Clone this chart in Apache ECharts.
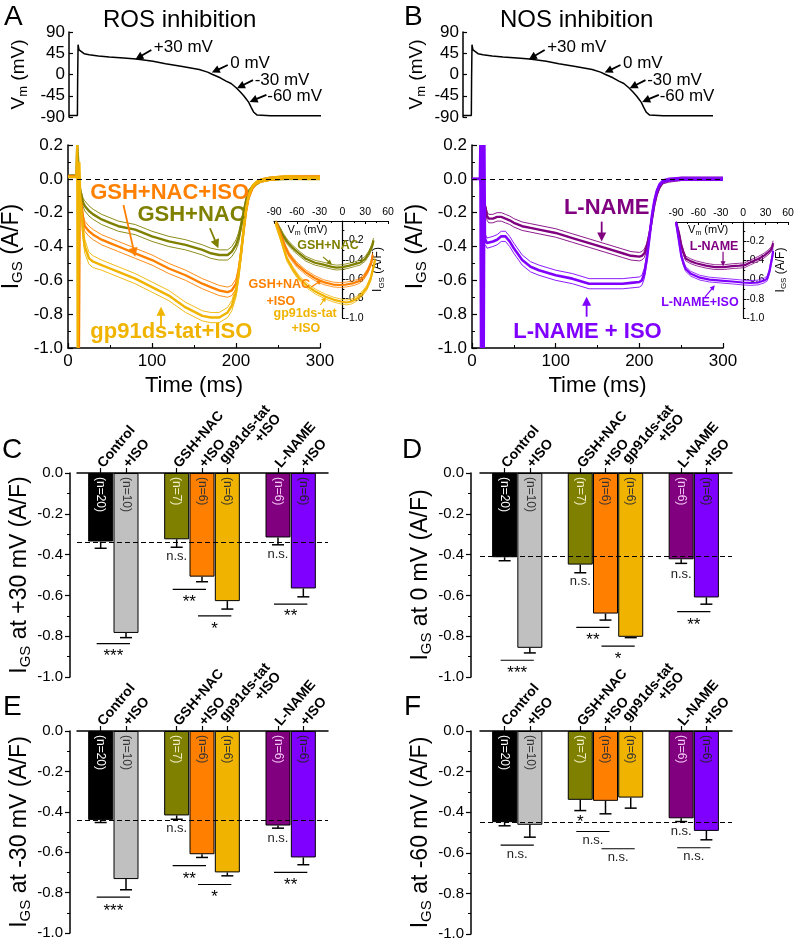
<!DOCTYPE html>
<html><head><meta charset="utf-8">
<script src="https://cdn.jsdelivr.net/npm/echarts@6/dist/echarts.min.js"></script>
<style>html,body{margin:0;padding:0;background:#fff}#c{width:800px;height:944px}</style>
</head><body><div id="c"></div>
<script>
const FF = "'Liberation Sans', Arial, Helvetica, sans-serif";

// ---------------- DATA ----------------
// Action potential (Vm) command: time (ms), voltage (mV)
const vmTime  = [0,10,10.3,10.8,11.3,12,14,18,24,35,48,65,80,100,115,135,155,165,171,180,187,193,199,204,208,211,214,217,220,224,240,300];
const vmValue = [-87,-87,-10,63,58,52,48,44,42,39,37,35,33,28,23,17,10.5,5,0,-7,-14,-19,-28,-37,-45,-52,-59,-70,-80,-86,-87.5,-87.5];

// Panel A traces (A/F)
const tA = [16,18,20,25,30,40,50,60,80,100,120,140,160,170,180,190,195,200,203,206,209,212,215,220,225,230,240,260,280,300];
const gshNac    = [-0.10,-0.14,-0.16,-0.19,-0.21,-0.24,-0.26,-0.28,-0.30,-0.34,-0.37,-0.39,-0.42,-0.44,-0.45,-0.45,-0.43,-0.39,-0.35,-0.28,-0.20,-0.13,-0.08,-0.045,-0.025,-0.01,0,0.005,0.005,0.005];
const gshNacIso = [-0.15,-0.24,-0.28,-0.31,-0.33,-0.36,-0.38,-0.40,-0.44,-0.48,-0.53,-0.57,-0.62,-0.64,-0.66,-0.67,-0.66,-0.62,-0.55,-0.44,-0.31,-0.19,-0.11,-0.05,-0.02,-0.01,0,0.01,0.01,0.01];
const gp91Iso   = [-0.20,-0.32,-0.40,-0.47,-0.49,-0.51,-0.53,-0.55,-0.59,-0.64,-0.69,-0.76,-0.81,-0.82,-0.82,-0.79,-0.75,-0.67,-0.57,-0.44,-0.30,-0.18,-0.10,-0.04,-0.02,-0.01,0,0.01,0.005,0.005];
const semGshNac    = [0.02,0.025,0.03,0.03,0.03,0.03,0.03,0.03,0.03,0.03,0.03,0.03,0.03,0.03,0.03,0.03,0.03,0.03,0.03,0.025,0.02,0.02,0.015,0.01,0.01,0.01,0.01,0.01,0.01,0.01];
const semGshNacIso = [0.02,0.03,0.03,0.03,0.03,0.03,0.03,0.03,0.03,0.03,0.03,0.03,0.03,0.03,0.03,0.03,0.03,0.03,0.03,0.03,0.025,0.02,0.015,0.01,0.01,0.01,0.01,0.01,0.01,0.01];
const semGp91Iso   = [0.03,0.04,0.04,0.035,0.035,0.03,0.03,0.03,0.03,0.03,0.03,0.03,0.03,0.03,0.03,0.03,0.03,0.03,0.03,0.03,0.025,0.02,0.015,0.01,0.01,0.01,0.01,0.01,0.01,0.01];
const artGshNac    = [[0,0.02],[10,0.02],[11,0.2],[12.5,0.2],[14,-0.05]];
const artGshNacIso = [[0,0.015],[10,0.015],[12,0.1],[13,-1.0],[14,-0.1]];
const artGp91Iso   = [[0,0.01],[10,0.01],[11,0.2],[11.5,-1.0],[12.5,-1.0],[13.5,0.1],[14.5,-0.1]];

// Panel B traces (A/F)
const tB = [16,18,20,25,30,35,40,45,50,60,70,80,100,120,140,160,180,190,200,203,206,209,212,215,218,221,224,228,235,250,275,300];
const lName    = [-0.17,-0.22,-0.235,-0.235,-0.225,-0.225,-0.235,-0.245,-0.26,-0.28,-0.29,-0.30,-0.32,-0.35,-0.38,-0.41,-0.44,-0.455,-0.46,-0.455,-0.44,-0.40,-0.33,-0.24,-0.15,-0.09,-0.05,-0.02,-0.01,0,0,0];
const lNameIso = [-0.36,-0.38,-0.39,-0.37,-0.36,-0.34,-0.34,-0.37,-0.41,-0.48,-0.52,-0.54,-0.57,-0.59,-0.62,-0.62,-0.62,-0.615,-0.61,-0.60,-0.56,-0.47,-0.35,-0.22,-0.13,-0.07,-0.035,-0.015,-0.005,0,0,0];
const semLName    = [0.02,0.025,0.025,0.025,0.025,0.025,0.025,0.025,0.025,0.025,0.025,0.025,0.025,0.025,0.025,0.025,0.025,0.025,0.025,0.025,0.025,0.02,0.02,0.02,0.015,0.01,0.01,0.01,0.01,0.01,0.01,0.01];
const semLNameIso = [0.03,0.03,0.03,0.03,0.03,0.03,0.03,0.03,0.03,0.03,0.03,0.03,0.03,0.03,0.03,0.03,0.03,0.03,0.03,0.03,0.03,0.025,0.02,0.02,0.015,0.01,0.01,0.01,0.01,0.01,0.01,0.01];
const artLName    = [[0,0],[10,0],[12,-0.1],[14,-0.14]];
const artLNameIso = [[0,0],[9.5,0],[10,0.2],[10.8,-1],[11.6,0.2],[12.4,-1],[13.2,0.2],[14,-1],[14.8,0.2],[15.4,-0.34]];

// Insets: I-V relations [Vm (mV), I (A/F)]
const ivGshNac    = [[-87,-0.02],[-82,-0.09],[-78,-0.15],[-72,-0.22],[-65,-0.28],[-56,-0.34],[-48,-0.39],[-36,-0.43],[-25,-0.45],[-15,-0.47],[-8,-0.48],[0,-0.475],[9,-0.46],[16,-0.445],[23,-0.43],[30,-0.39],[35,-0.33],[39,-0.26],[41,-0.2]];
const ivGshNacIso = [[-87,-0.02],[-80,-0.17],[-75,-0.27],[-70,-0.35],[-60,-0.45],[-48,-0.53],[-36,-0.59],[-25,-0.63],[-12,-0.655],[-4,-0.66],[5,-0.655],[15,-0.64],[22,-0.62],[28,-0.58],[33,-0.52],[38,-0.43],[40,-0.35]];
const ivGp91Iso   = [[-88,-0.02],[-82,-0.16],[-77,-0.29],[-73,-0.39],[-65,-0.5],[-57,-0.59],[-46,-0.67],[-35,-0.73],[-22,-0.78],[-12,-0.81],[-2,-0.83],[5,-0.84],[12,-0.83],[19,-0.80],[26,-0.75],[32,-0.69],[37,-0.6],[41,-0.47],[43,-0.4]];
const ivLName     = [[-90,0],[-86,-0.12],[-83,-0.24],[-80,-0.32],[-77,-0.38],[-70,-0.41],[-63,-0.43],[-50,-0.455],[-38,-0.47],[-25,-0.47],[-15,-0.46],[-5,-0.455],[2,-0.45],[10,-0.42],[20,-0.385],[28,-0.35],[33,-0.32],[37,-0.29],[39,-0.26],[40,-0.22]];
const ivLNameIso  = [[-90,0],[-86,-0.2],[-83,-0.35],[-80,-0.43],[-77,-0.49],[-70,-0.54],[-58,-0.58],[-45,-0.6],[-30,-0.61],[-15,-0.62],[-1,-0.63],[10,-0.635],[20,-0.63],[28,-0.61],[32,-0.59],[35,-0.52],[37,-0.44],[39,-0.36],[40,-0.3]];
const semIv = 0.025;

// Bar charts
const barCats = ["Control","+ISO","","GSH+NAC","+ISO","gp91ds-tat\n+ISO","","L-NAME","+ISO"];
const barNs   = ["(n=20)","(n=10)","","(n=7)","(n=6)","(n=6)","","(n=6)","(n=6)"];
const igsP30  = [-0.336,-0.784,null,-0.325,-0.508,-0.628,null,-0.316,-0.566];
const semP30  = [0.033,0.023,null,0.039,0.025,0.039,null,0.036,0.041];
const igs0    = [-0.413,-0.857,null,-0.449,-0.689,-0.803,null,-0.423,-0.61];
const sem0    = [0.017,0.025,null,0.04,0.032,0.004,null,0.02,0.033];
const igsM30  = [-0.44,-0.733,null,-0.418,-0.61,-0.70,null,-0.468,-0.626];
const semM30  = [0.013,0.053,null,0.019,0.016,0.017,null,0.013,0.036];
const igsM60  = [-0.449,-0.462,null,-0.339,-0.344,-0.328,null,-0.43,-0.492];
const semM60  = [0.018,0.061,null,0.053,0.064,0.052,null,0.016,0.044];
// significance: [catA, catB, lineY, label, labelY]  and single labels [cat, y, label]
const sigP30  = [[0,1,-0.836,"***",-0.877],[3,4,-0.57,"**",-0.615],[4,5,-0.70,"*",-0.746],[7,8,-0.643,"**",-0.685]];
const nsP30   = [[3,-0.41,"n.s."],[7,-0.40,"n.s."]];
const sig0    = [[0,1,-0.918,"***",-0.964],[3,4,-0.757,"**",-0.80],[4,5,-0.849,"*",-0.893],[7,8,-0.68,"**",-0.726]];
const ns0     = [[3,-0.533,"n.s."],[7,-0.495,"n.s."]];
const sigM30  = [[0,1,-0.822,"***",-0.872],[3,4,-0.666,"**",-0.712],[4,5,-0.76,"*",-0.802],[7,8,-0.70,"**",-0.745]];
const nsM30   = [[3,-0.484,"n.s."],[7,-0.53,"n.s."]];
const sigM60  = [[0,1,-0.562,"n.s.",-0.61],[3,4,-0.495,"n.s.",-0.54],[4,5,-0.58,"n.s.",-0.625],[7,8,-0.575,"n.s.",-0.62]];
const nsM60   = [[3,-0.43,"*"],[7,-0.497,"n.s."]];

// ---------------- STYLES ----------------
const OLIVE='#808000', ORANGE='#ff8000', GOLD='#f0b400', PURPLE='#800080', VIOLET='#8000ff';
const barColors = ['#000000','#c0c0c0',null,OLIVE,ORANGE,GOLD,null,PURPLE,VIOLET];
const nTextColors = ['#ffffff','#333333',null,'#f0f0c8','#333333','#333333',null,'#f4c8f4','#222222'];

// ---------------- BUILD ----------------
const grids=[], xAxes=[], yAxes=[], series=[];
function addAxes(g, xa, ya){
  grids.push(Object.assign({outerBoundsMode:'none', containLabel:false, show:false}, g));
  const gi = grids.length-1;
  xAxes.push(Object.assign({gridIndex:gi}, xa));
  yAxes.push(Object.assign({gridIndex:gi}, ya));
  return gi;
}
const fmt1 = v => (Math.abs(v)<1e-9?0:v).toFixed(1);
const axLine = (w)=>({show:true, onZero:false, lineStyle:{color:'#000', width:w||1.5}});
const noSplit = {show:false};
function richName(main, sub, rest, size, subSize){
  return {
    name: `{b|${main}}{s|${sub}}{b|${rest}}`,
    nameTextStyle: {fontFamily:FF, color:'#000', fontSize:size,
      rich:{ b:{fontFamily:FF, fontSize:size, lineHeight:size+4, color:'#000'},
             s:{fontFamily:FF, fontSize:subSize, lineHeight:subSize, color:'#000', verticalAlign:'bottom'} } }
  };
}
const pairs = (ts, vs) => ts.map((t,k)=>[t, vs[k]]);
const shifted = (ts, vs, ss, sg) => ts.map((t,k)=>[t, vs[k]+sg*ss[k]]);
const ivShift = (pts, sg) => pts.map(p=>[p[0], p[1]+sg*semIv]);
function line(gi, data, color, w, extra){
  return Object.assign({type:'line', xAxisIndex:gi, yAxisIndex:gi, data, symbol:'none', showSymbol:false,
    silent:true, animation:false, lineStyle:{color, width:w}, itemStyle:{color}, z:3}, extra||{});
}
function arrowEls(p1, p2, color, lw, hl, hw){
  const dx=p2[0]-p1[0], dy=p2[1]-p1[1]; const L=Math.hypot(dx,dy)||1; const ux=dx/L, uy=dy/L;
  const bx=p2[0]-ux*hl, by=p2[1]-uy*hl;
  return [
    {type:'line', shape:{x1:p1[0],y1:p1[1],x2:bx+ux*1,y2:by+uy*1}, style:{stroke:color, lineWidth:lw}},
    {type:'polygon', shape:{points:[[p2[0],p2[1]],[bx-uy*hw,by+ux*hw],[bx+uy*hw,by-ux*hw]]}, style:{fill:color}}
  ];
}
// annotation items: {a:[x1,y1,x2,y2], c, lw, hl, hw} or {t:text, x, y, c, fs, bold, align, rich}
function annot(gi, items){
  return {type:'custom', xAxisIndex:gi, yAxisIndex:gi, z:10, silent:true, clip:false, animation:false,
    data: items.map(it => it.a ? [it.a[0], it.a[1]] : [it.x, it.y]),
    renderItem:(p, api)=>{
      const it = items[p.dataIndex];
      if (it.a){
        const p1 = api.coord([it.a[0], it.a[1]]), p2 = api.coord([it.a[2], it.a[3]]);
        return {type:'group', children: arrowEls(p1, p2, it.c||'#000', it.lw||1.5, it.hl||7, it.hw||3.5)};
      }
      const q = api.coord([it.x, it.y]);
      return {type:'text', x:q[0], y:q[1], style:{text:it.t, fill:it.c||'#000', fontSize:it.fs||14,
        fontFamily:FF, fontWeight:it.bold?'bold':'normal', align:it.align||'center', verticalAlign:'middle', rich:it.rich}};
    }};
}

// ---- Vm panels ----
function vmPanel(left, width, nameGap){
  const gi = addAxes({left, top:32, width, height:85},
    {type:'value', min:0, max:300, show:false},
    Object.assign({type:'value', min:-90, max:90, interval:45, axisLine:axLine(1.5),
      axisTick:{inside:true, length:4, lineStyle:{color:'#000', width:1.2}},
      axisLabel:{fontFamily:FF, fontSize:17, color:'#000', margin:4}, splitLine:noSplit,
      nameLocation:'middle', nameGap}, richName('V','m',' (mV)',19,13)));
  series.push(line(gi, pairs(vmTime, vmValue), '#000', 1.5));
  const A = {lw:1.8, hl:8, hw:4};
  series.push(annot(gi, [
    Object.assign({a:[98,52,79,32]},A), Object.assign({a:[189,20,170,4]},A),
    Object.assign({a:[219,-12,200,-29]},A), Object.assign({a:[235,-43,215,-58]},A),
    {t:'+30 mV', x:101, y:58, fs:17, align:'left'},
    {t:'0 mV', x:192, y:24, fs:17, align:'left'},
    {t:'-30 mV', x:221, y:-12, fs:17, align:'left'},
    {t:'-60 mV', x:236, y:-47, fs:17, align:'left'}
  ]));
}
vmPanel(69, 252, 39);
vmPanel(463, 250, 35);

// ---- current trace panels ----
function igsPanel(left, width){
  return addAxes({left, top:145, width, height:203},
    {type:'value', min:0, max:300, interval:100, axisLine:axLine(1.5),
      axisTick:{inside:true, length:5, lineStyle:{color:'#000', width:1.2}},
      minorTick:{show:true, splitNumber:2, length:3, lineStyle:{color:'#000', width:1}},
      axisLabel:{fontFamily:FF, fontSize:17, color:'#000', margin:5}, splitLine:noSplit, minorSplitLine:noSplit,
      name:'Time (ms)', nameLocation:'middle', nameGap:27, nameTextStyle:{fontFamily:FF, fontSize:22, color:'#000'}},
    Object.assign({type:'value', min:-1, max:0.2, interval:0.2, axisLine:axLine(1.5),
      axisTick:{inside:true, length:5, lineStyle:{color:'#000', width:1.2}},
      minorTick:{show:true, splitNumber:2, length:3, lineStyle:{color:'#000', width:1}},
      axisLabel:{fontFamily:FF, fontSize:17, color:'#000', margin:5, formatter:fmt1}, splitLine:noSplit, minorSplitLine:noSplit,
      nameLocation:'middle', nameGap:43}, richName('I','GS',' (A/F)',23,15)));
}
const zeroMark = {silent:true, symbol:'none', label:{show:false}, lineStyle:{type:[5,4], color:'#000', width:1}, data:[{yAxis:0}]};

const gA = igsPanel(68, 252);
[[tA, gshNac, semGshNac, artGshNac, OLIVE],[tA, gshNacIso, semGshNacIso, artGshNacIso, ORANGE],[tA, gp91Iso, semGp91Iso, artGp91Iso, GOLD]]
.forEach(([t, v, s, art, col], k)=>{
  series.push(line(gA, shifted(t, v, s, 1), col, 0.9));
  series.push(line(gA, shifted(t, v, s, -1), col, 0.9));
  series.push(line(gA, art.concat(pairs(t, v)), col, 2.4, k===0 ? {markLine:zeroMark} : {}));
});
series.push(annot(gA, [
  {t:'GSH+NAC+ISO', x:121, y:-0.085, c:ORANGE, fs:22, bold:true},
  {t:'GSH+NAC', x:147, y:-0.214, c:OLIVE, fs:22, bold:true},
  {t:'gp91ds-tat+ISO', x:123, y:-0.903, c:GOLD, fs:22, bold:true},
  {a:[66,-0.155,80,-0.46], c:ORANGE, lw:1.8, hl:9, hw:4.5},
  {a:[169,-0.292,179,-0.41], c:OLIVE, lw:1.8, hl:9, hw:4.5},
  {a:[110.7,-0.874,110.7,-0.756], c:GOLD, lw:1.8, hl:9, hw:4.5}
]));

const gB = igsPanel(472, 251);
[[tB, lName, semLName, artLName, PURPLE],[tB, lNameIso, semLNameIso, artLNameIso, VIOLET]]
.forEach(([t, v, s, art, col], k)=>{
  series.push(line(gB, shifted(t, v, s, 1), col, 0.9));
  series.push(line(gB, shifted(t, v, s, -1), col, 0.9));
  series.push(line(gB, art.concat(pairs(t, v)), col, k===1?2.6:2.4, k===0 ? {markLine:zeroMark} : {}));
});
series.push(annot(gB, [
  {t:'L-NAME', x:161, y:-0.174, c:PURPLE, fs:22, bold:true},
  {t:'L-NAME + ISO', x:138, y:-0.903, c:VIOLET, fs:22, bold:true},
  {a:[155,-0.253,155,-0.371], c:PURPLE, lw:1.8, hl:9, hw:4.5},
  {a:[137,-0.815,137,-0.697], c:VIOLET, lw:1.8, hl:9, hw:4.5}
]));

// ---- insets (y axis drawn at Vm = 0 by shifting the right-hand axis inwards) ----
function insetPanel(left, width, top, height, nameGap){
  const zeroOffset = -(width * 60 / 150); // distance from right edge (60 mV) to 0 mV
  return addAxes({left, top, width, height},
    {type:'value', min:-90, max:60, interval:30, position:'top', axisLine:axLine(1.2),
      axisTick:{inside:true, length:3, lineStyle:{color:'#000'}},
      minorTick:{show:true, splitNumber:2, length:2, lineStyle:{color:'#000'}},
      axisLabel:{fontFamily:FF, fontSize:10.5, color:'#000', margin:3}, splitLine:noSplit, minorSplitLine:noSplit},
    Object.assign({type:'value', min:-1, max:0, interval:0.2, position:'right', offset:zeroOffset,
      axisLine:{show:true, onZero:false, lineStyle:{color:'#000', width:1.2}},
      axisTick:{length:3, lineStyle:{color:'#000'}},
      minorTick:{show:true, splitNumber:2, length:2, lineStyle:{color:'#000'}},
      axisLabel:{fontFamily:FF, fontSize:10.5, color:'#000', margin:3, formatter:v=>Math.abs(v)<1e-9?'':fmt1(v)},
      splitLine:noSplit, minorSplitLine:noSplit, nameLocation:'middle', nameGap}, richName('I','GS',' (A/F)',12,8)));
}
const vmRich = {b:{fontFamily:FF, fontSize:11, lineHeight:13, color:'#000'}, s:{fontFamily:FF, fontSize:7, lineHeight:7, color:'#000', verticalAlign:'bottom'}};
const gAi = insetPanel(274, 114, 221, 97, 27);
[[ivGshNac, OLIVE],[ivGshNacIso, ORANGE],[ivGp91Iso, GOLD]].forEach(([pts, col])=>{
  series.push(line(gAi, ivShift(pts,1), col, 0.8));
  series.push(line(gAi, ivShift(pts,-1), col, 0.8));
  series.push(line(gAi, pts, col, 2.2));
});
series.push(annot(gAi, [
  {t:'{b|V}{s|m}{b| (mV)}', x:-46, y:-0.093, rich:vmRich},
  {t:'GSH+NAC', x:-19, y:-0.25, c:OLIVE, fs:12.5, bold:true},
  {t:'GSH+NAC', x:-83, y:-0.66, c:ORANGE, fs:12.5, bold:true},
  {t:'+ISO', x:-81, y:-0.835, c:ORANGE, fs:12.5, bold:true},
  {t:'gp91ds-tat', x:-49, y:-0.95, c:GOLD, fs:12.5, bold:true},
  {t:'+ISO', x:-48, y:-1.11, c:GOLD, fs:12.5, bold:true},
  {a:[-25.5,-0.37,-13.7,-0.45], c:OLIVE, lw:1.2, hl:5, hw:2.5},
  {a:[-41,-0.68,-27,-0.61], c:ORANGE, lw:1.2, hl:5, hw:2.5},
  {a:[-29,-0.866,-21.6,-0.78], c:GOLD, lw:1.2, hl:5, hw:2.5}
]));
const gBi = insetPanel(676, 112, 222, 96, 29);
[[ivLName, PURPLE],[ivLNameIso, VIOLET]].forEach(([pts, col])=>{
  series.push(line(gBi, ivShift(pts,1), col, 0.8));
  series.push(line(gBi, ivShift(pts,-1), col, 0.8));
  series.push(line(gBi, pts, col, 2.2));
});
series.push(annot(gBi, [
  {t:'{b|V}{s|m}{b| (mV)}', x:-47, y:-0.083, rich:vmRich},
  {t:'L-NAME', x:-39, y:-0.26, c:PURPLE, fs:12.5, bold:true},
  {t:'L-NAME+ISO', x:-58, y:-0.84, c:VIOLET, fs:12.5, bold:true},
  {a:[-27,-0.31,-27,-0.46], c:PURPLE, lw:1.2, hl:5, hw:2.5},
  {a:[-51,-0.78,-38,-0.66], c:VIOLET, lw:1.2, hl:5, hw:2.5}
]));

// ---- bar panels ----
function barPanel(o){
  const gf = addAxes({left:o.frameLeft, top:o.top, width:o.frameWidth, height:o.height},
    {type:'value', min:0, max:1, position:'top', axisLine:axLine(1.5), axisTick:{show:false}, axisLabel:{show:false}, splitLine:noSplit},
    Object.assign({type:'value', min:-1, max:0, interval:0.2, offset:o.frameLeft-o.axisX, axisLine:axLine(1.5),
      axisTick:{show:true, length:5, lineStyle:{color:'#000', width:1.2}},
      minorTick:{show:true, splitNumber:2, length:3, lineStyle:{color:'#000', width:1}},
      axisLabel:{fontFamily:FF, fontSize:15, color:'#000', margin:7, formatter:fmt1},
      splitLine:noSplit, minorSplitLine:noSplit, nameLocation:'middle', nameGap:36},
      richName('I','GS',o.yRest,23,15)));
  series.push({type:'line', xAxisIndex:gf, yAxisIndex:gf, data:[[0.5, o.vals[0]]], symbol:'none', lineStyle:{opacity:0}, silent:true,
    markLine:{silent:true, symbol:'none', label:{show:false}, lineStyle:{type:[5,3], color:'#000', width:1}, data:[{yAxis:o.vals[0]}]}});
  const gb = addAxes({left:o.barLeft, top:o.top, width:o.barWidth, height:o.height},
    {type:'category', data:barCats, position:'top', axisLine:{show:false},
      axisTick:{show:true, alignWithLabel:true, length:5, interval:(i,v)=>v!=='', lineStyle:{color:'#000', width:1.2}},
      axisLabel:{interval:0, rotate:50, margin:7, fontFamily:FF, fontSize:14, fontWeight:'bold', color:'#000',
        formatter:v=>{const l=v.split('\n'); return l.length>1 ? `{a|${l[0]}}\n{r|${l[1]}}` : v;},
        rich:{a:{fontFamily:FF, fontSize:14, fontWeight:'bold', color:'#000'}, r:{fontFamily:FF, fontSize:14, fontWeight:'bold', color:'#000', align:'right'}}},
      splitLine:noSplit},
    {type:'value', min:-1, max:0, show:false});
  series.push({type:'bar', xAxisIndex:gb, yAxisIndex:gb, barWidth:25, silent:true, animation:false, z:2,
    itemStyle:{borderColor:'#000', borderWidth:1},
    label:{show:true, position:'insideTop', rotate:-90, align:'left', verticalAlign:'middle', distance:4, fontFamily:FF, fontSize:12},
    data:o.vals.map((v,i)=> v==null ? '-' : {value:v, itemStyle:{color:barColors[i]}, label:{color:nTextColors[i], formatter:barNs[i]}})});
  series.push({type:'custom', xAxisIndex:gb, yAxisIndex:gb, z:4, silent:true, animation:false,
    data:o.vals.map((v,i)=>[i, v, o.sems[i]]).filter(d=>d[1]!=null),
    renderItem:(p, api)=>{
      const x=api.value(0), v=api.value(1), e=api.value(2);
      const p0=api.coord([x,v]), p1=api.coord([x,v-e]);
      return {type:'group', children:[
        {type:'line', shape:{x1:p0[0],y1:p0[1],x2:p1[0],y2:p1[1]}, style:{stroke:'#000', lineWidth:1.5}},
        {type:'line', shape:{x1:p1[0]-6,y1:p1[1],x2:p1[0]+6,y2:p1[1]}, style:{stroke:'#000', lineWidth:1.5}}]};
    }});
  const sigItems = o.sig.map(s=>({k:'b', s})).concat(o.ns.map(s=>({k:'t', s})));
  series.push({type:'custom', xAxisIndex:gb, yAxisIndex:gb, z:5, silent:true, animation:false, clip:false,
    data: sigItems.map(it=> it.k==='b' ? [it.s[0], it.s[2]] : [it.s[0], it.s[1]]),
    renderItem:(p, api)=>{
      const it = sigItems[p.dataIndex];
      const txt = (str, x, y)=>{ const star = str.indexOf('*')>=0;
        return {type:'text', x, y: y + (star?4:0), style:{text:str, fill: star?'#000':'#222', fontSize: star?17:13, fontFamily:FF, align:'center', verticalAlign:'middle'}}; };
      if (it.k==='b'){
        const [a,b,ly,lab,ty] = it.s;
        const pa=api.coord([a,ly]), pb=api.coord([b,ly]), pt=api.coord([a,ty]);
        return {type:'group', children:[
          {type:'line', shape:{x1:pa[0]-4,y1:pa[1],x2:pb[0]+4,y2:pb[1]}, style:{stroke:'#000', lineWidth:1.2}},
          txt(lab, (pa[0]+pb[0])/2, pt[1])]};
      }
      const [c,y,lab] = it.s; const q=api.coord([c,y]);
      return txt(lab, q[0], q[1]);
    }});
}
barPanel({frameLeft:77, frameWidth:251, axisX:70, barLeft:88, barWidth:228, top:473, height:204, vals:igsP30, sems:semP30, sig:sigP30, ns:nsP30, yRest:' at +30 mV (A/F)'});
barPanel({frameLeft:480, frameWidth:252, axisX:471, barLeft:492, barWidth:227, top:473, height:204, vals:igs0, sems:sem0, sig:sig0, ns:ns0, yRest:' at 0 mV (A/F)'});
barPanel({frameLeft:77, frameWidth:251, axisX:70, barLeft:88, barWidth:228, top:731, height:202, vals:igsM30, sems:semM30, sig:sigM30, ns:nsM30, yRest:' at -30 mV (A/F)'});
barPanel({frameLeft:480, frameWidth:252, axisX:471, barLeft:492, barWidth:227, top:731, height:203, vals:igsM60, sems:semM60, sig:sigM60, ns:nsM60, yRest:' at -60 mV (A/F)'});

const txt = (text, left, top, size)=>({type:'text', left, top, silent:true, style:{text, fontFamily:FF, fontSize:size, fill:'#000'}});
const option = {
  animation:false, backgroundColor:'#ffffff',
  grid:grids, xAxis:xAxes, yAxis:yAxes, series,
  graphic:[
    txt('A',4,3,28), txt('B',404,3,28),
    txt('ROS inhibition',103,8,24), txt('NOS inhibition',500,8,24),
    txt('C',2,436,28), txt('D',402,436,28), txt('E',3,693,28), txt('F',404,693,28)
  ]
};
const chart = echarts.init(document.getElementById('c'), null, {renderer:'canvas', width:800, height:944});
chart.setOption(option);
</script></body></html>
